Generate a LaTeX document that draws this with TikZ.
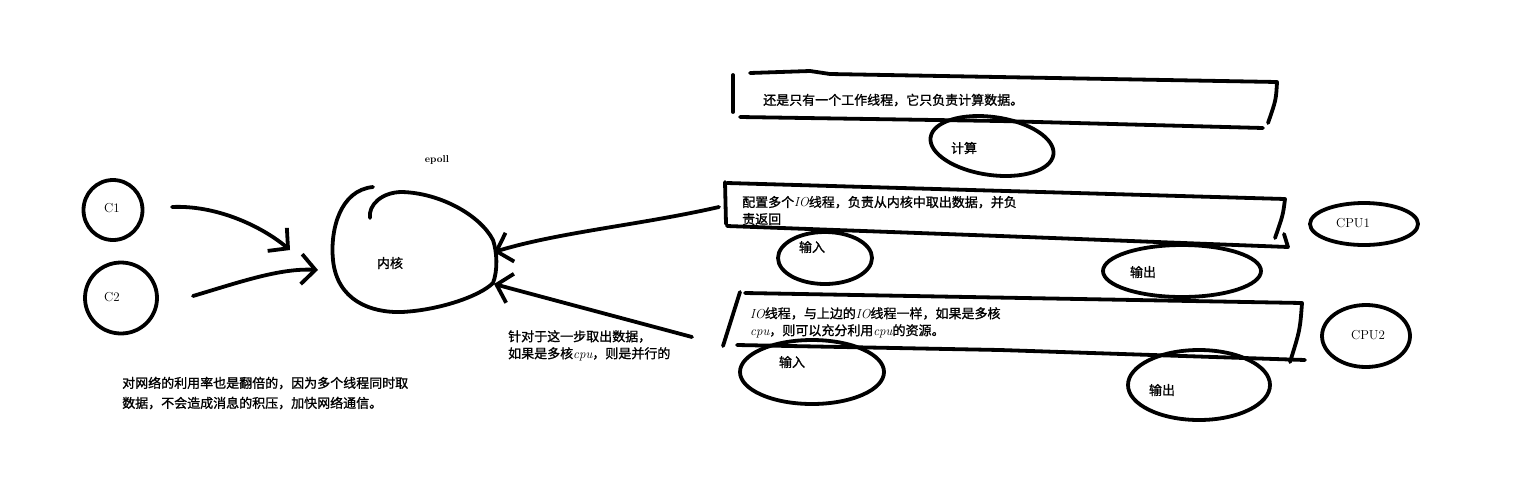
\documentclass[tikz,border=0pt]{standalone}
\usepackage{fontspec}
\usepackage{tikz}
\usetikzlibrary{arrows.meta,shapes.geometric}
\newfontfamily\cjk{Noto Sans CJK SC}[FakeBold=1.2]

\tikzset{
  sketch/.style={line width=3.8pt,line cap=round,line join=round},
  blob/.style={sketch,draw,ellipse,inner sep=0pt},
  txt/.style={font=\cjk\fontsize{13}{17}\selectfont,inner sep=0pt,anchor=west,align=left},
  hand/.style={font=\rmfamily\fontsize{13}{15}\selectfont,inner sep=0pt},
  barb/.style={sketch,-{Straight Barb[length=14pt,width=30pt]}}
}

\begin{document}
\begin{tikzpicture}[x=1pt,y=-1pt]
\useasboundingbox (0,0) rectangle (1518,488);

% clients
\node[blob,minimum width=59,minimum height=60] (c1) at (113,210) {};
\node[blob,minimum width=72,minimum height=71] (c2) at (121,298) {};
\node[hand] (c1t) at (112,208) {C1};
\node[hand] (c2t) at (112,297) {C2};

% kernel
\node[hand,font=\rmfamily\fontsize{10}{12}\selectfont] (epoll) at (437,160) {\textbf{epoll}};
\draw[sketch] (373,187) .. controls (340,190) and (330,230) .. (333,260)
  .. controls (337,300) and (370,313) .. (402,312)
  .. controls (440,310) and (480,296) .. (493,283)
  .. controls (498,270) and (497,252) .. (493,240)
  .. controls (480,215) and (440,193) .. (402,192)
  .. controls (382,192) and (368,205) .. (370,218);
\node[txt,anchor=center] (kernel) at (390,263) {内核};
\coordinate (k1) at (290,250);
\coordinate (k2) at (318,270);
\coordinate (k3) at (494,252);
\coordinate (k4) at (494,284);
\coordinate (c1out) at (172,207);
\coordinate (c2out) at (193,296);
\draw[barb] (c1out) .. controls (215,205) and (260,225) .. (k1);
\draw[barb] (c2out) .. controls (240,282) and (280,268) .. (k2);

% box 1
\draw[sketch] (733,75) -- (733,112);
\draw[sketch] (750,73) -- (810,71) -- (830,74) -- (1277,82) .. controls (1276,100) .. (1268,123);
\draw[sketch] (740,117) -- (1000,121) -- (1263,128);
\node[txt] (work) at (763,100) {还是只有一个工作线程，它只负责计算数据。};
\node[blob,minimum width=124,minimum height=58,rotate=-8] (calc) at (992,146) {};
\node[txt,anchor=center] (calct) at (964,148) {计算};

% box 2
\draw[sketch] (725,182) -- (726,224);
\draw[sketch] (727,183) -- (1285,199) .. controls (1283,215) .. (1275,238);
\draw[sketch] (727,226) -- (1000,236) -- (1288,247) -- (1284,234);
\node[txt] (io1) at (742,210.5) {配置多个{\rmfamily\itshape IO}线程，负责从内核中取出数据，并负\\责返回};
\node[blob,minimum width=94,minimum height=52] (in1) at (825,258) {};
\node[txt,anchor=center] (in1t) at (812,247) {输入};
\node[blob,minimum width=158,minimum height=52] (out1) at (1182,271) {};
\node[txt,anchor=center] (out1t) at (1143,272) {输出};
\node[blob,minimum width=108,minimum height=42] (cpu1) at (1364,224) {};
\node[hand] (cpu1t) at (1353,223) {CPU1};
\coordinate (b2) at (719,207);
\draw[barb] (b2) .. controls (640,225) and (560,232) .. (k3);

% box 3
\draw[sketch] (740,292) -- (723,346);
\draw[sketch] (745,293) -- (1302,303) .. controls (1300,330) .. (1290,362);
\draw[sketch] (737,345) -- (1000,350) -- (1305,360);
\node[txt] (io2) at (750,322.5) {{\rmfamily\itshape IO}线程，与上边的{\rmfamily\itshape IO}线程一样，如果是多核\\{\rmfamily\itshape cpu}，则可以充分利用{\rmfamily\itshape cpu}的资源。};
\node[blob,minimum width=144,minimum height=64] (in2) at (812,372) {};
\node[txt,anchor=center] (in2t) at (792,362) {输入};
\node[blob,minimum width=142,minimum height=70] (out2) at (1199,385) {};
\node[txt,anchor=center] (out2t) at (1162,390) {输出};
\node[blob,minimum width=88,minimum height=62] (cpu2) at (1366,336) {};
\node[hand] (cpu2t) at (1368,335) {CPU2};
\coordinate (b3) at (692,337);
\draw[barb] (b3) -- (k4);

% notes
\node[txt] (note1) at (508,345.5) {针对于这一步取出数据，\\如果是多核{\rmfamily\itshape cpu}，则是并行的};
\node[txt,font=\cjk\fontsize{13}{20}\selectfont] (note2) at (122,393) {对网络的利用率也是翻倍的，因为多个线程同时取\\数据，不会造成消息的积压，加快网络通信。};
\end{tikzpicture}
\end{document}
